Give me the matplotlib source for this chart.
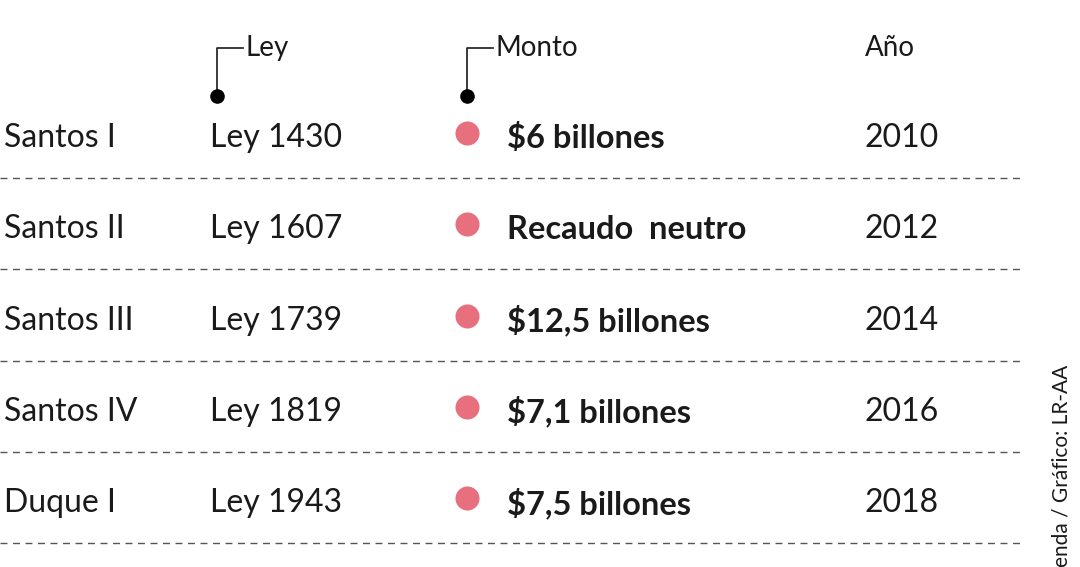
import matplotlib
matplotlib.use("Agg")
import matplotlib.pyplot as plt

gobiernos = ["Santos I", "Santos II", "Santos III", "Santos IV", "Duque I"]
leyes = ["Ley 1430", "Ley 1607", "Ley 1739", "Ley 1819", "Ley 1943"]
montos = ["$6 billones", "Recaudo  neutro", "$12,5 billones", "$7,1 billones", "$7,5 billones"]
anios = ["2010", "2012", "2014", "2016", "2018"]
headers = ["Ley", "Monto", "Año"]
fuente = "enda / Gráfico: LR-AA"

plt.rcParams['font.family'] = ['Lato', 'DejaVu Sans']
fig = plt.figure(figsize=(10.8, 5.67), dpi=100)
ax = fig.add_axes([0, 0, 1, 1])
ax.set_xlim(0, 1080)
ax.set_ylim(567, 0)
ax.axis('off')

txt = '#1a1a1a'
pink = '#E8707E'
fs = 23

row_y0, row_dy = 138, 91.3
for i in range(len(gobiernos)):
    y = row_y0 + i * row_dy
    ax.text(4, y, gobiernos[i], fontsize=fs, color=txt, va='center', ha='left')
    ax.text(210, y, leyes[i], fontsize=fs, color=txt, va='center', ha='left')
    ax.scatter([467], [y - 5], s=300, color=pink, zorder=3, linewidths=0)
    ax.text(507, y, montos[i], fontsize=fs + 0.5, color=txt, va='center', ha='left', fontweight='bold')
    ax.text(865, y, anios[i], fontsize=fs, color=txt, va='center', ha='left')
    ly = y + 40
    ax.plot([0, 1022], [ly, ly], color='#555555', lw=1, ls=(0, (5, 4)))

for hx, label in [(217, headers[0]), (467, headers[1])]:
    ax.plot([hx, hx, hx + 26], [95, 48, 48], color=txt, lw=1.2)
    ax.scatter([hx], [96], s=110, color='black', zorder=3, linewidths=0)
    ax.text(hx + 28, 48, label, fontsize=20, color=txt, va='center', ha='left')
ax.text(865, 48, headers[2], fontsize=20, color=txt, va='center', ha='left')

ax.text(1062, 567, fuente, fontsize=15, color=txt, rotation=90, va='bottom', ha='center')

fig.savefig("out.png", dpi=100)
